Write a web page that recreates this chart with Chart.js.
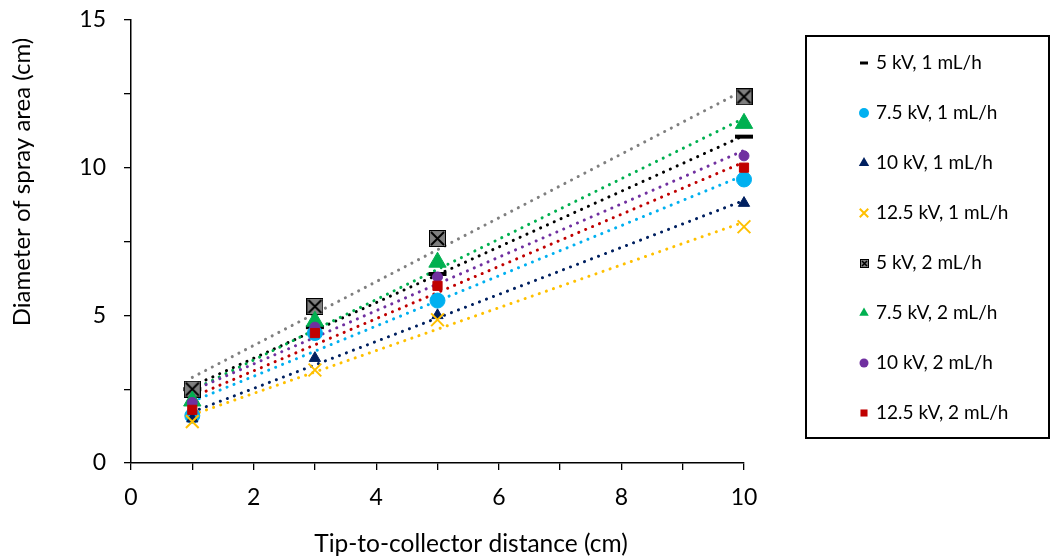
<!DOCTYPE html>
<html>
<head>
<meta charset="utf-8">
<script src="https://cdn.jsdelivr.net/npm/chart.js@4.4.0/dist/chart.umd.min.js"></script>
<style>
  html, body { margin: 0; padding: 0; background: #fff; }
  #wrap { width: 1052px; height: 559px; position: relative; }
</style>
</head>
<body>
<div id="wrap"><canvas id="c"></canvas></div>
<script>
// data
var distances = [1, 3, 5, 10];
var seriesLabels = ['5 kV, 1 mL/h', '7.5 kV, 1 mL/h', '10 kV, 1 mL/h', '12.5 kV, 1 mL/h',
                    '5 kV, 2 mL/h', '7.5 kV, 2 mL/h', '10 kV, 2 mL/h', '12.5 kV, 2 mL/h'];
var kv5_1 = [2.5, 4.6, 6.4, 11.05];
var kv75_1 = [1.6, 4.4, 5.5, 9.6];
var kv10_1 = [1.5, 3.55, 5.0, 8.8];
var kv125_1 = [1.4, 3.15, 4.85, 8.0];
var kv5_2 = [2.5, 5.3, 7.6, 12.4];
var kv75_2 = [2.1, 4.8, 6.8, 11.5];
var kv10_2 = [2.05, 4.6, 6.3, 10.4];
var kv125_2 = [1.8, 4.4, 6.0, 10.0];
var xTicks = [0, 2, 4, 6, 8, 10];
var yTicks = [0, 5, 10, 15];
var xTitle = 'Tip-to-collector distance (cm)';
var yTitle = 'Diameter of spray area (cm)';

var allSeries = [kv5_1, kv75_1, kv10_1, kv125_1, kv5_2, kv75_2, kv10_2, kv125_2];

var FONT = 'Lato, "Open Sans", sans-serif';

// marker looks, same order as the series
var looks = [
  { color: '#000000', style: 'line', r: 9, bw: 4, lr: 4 },
  { color: '#00b0f0', style: 'circle', r: 7.5, lr: 5 },
  { color: '#002060', style: 'triangle', r: 6.5, lr: 6 },
  { color: '#ffc000', style: 'crossRot', r: 9, bw: 2, lr: 6 },
  { color: '#7f7f7f', style: 'box', r: 8.5, lr: 4.5 },
  { color: '#00b050', style: 'triangle', r: 10, lr: 5.5 },
  { color: '#7030a0', style: 'circle', r: 5, lr: 4.5 },
  { color: '#c00000', style: 'rect', r: 6.5, lr: 5 }
];

function boxImage(size) {
  var cv = document.createElement('canvas');
  cv.width = size; cv.height = size;
  var g = cv.getContext('2d');
  g.fillStyle = '#7f7f7f';
  g.fillRect(0, 0, size, size);
  g.strokeStyle = '#000';
  g.lineWidth = 1;
  g.strokeRect(0.5, 0.5, size - 1, size - 1);
  g.lineWidth = Math.max(1.5, size / 9);
  g.beginPath();
  g.moveTo(2, 2); g.lineTo(size - 2, size - 2);
  g.moveTo(size - 2, 2); g.lineTo(2, size - 2);
  g.stroke();
  return cv;
}

// linear least squares trendline, like the spreadsheet's
function trend(ys) {
  var n = distances.length, mx = 0, my = 0, sxx = 0, sxy = 0;
  for (var i = 0; i < n; i++) { mx += distances[i] / n; my += ys[i] / n; }
  for (var j = 0; j < n; j++) {
    sxx += (distances[j] - mx) * (distances[j] - mx);
    sxy += (distances[j] - mx) * (ys[j] - my);
  }
  var b = sxy / sxx, a = my - b * mx;
  var x0 = distances[0], x1 = distances[n - 1];
  return [{ x: x0, y: a + b * x0 }, { x: x1, y: a + b * x1 }];
}

function points(ys) {
  return distances.map(function(x, i) { return { x: x, y: ys[i] }; });
}

var datasets = [];
allSeries.forEach(function(ys, i) {
  var lk = looks[i];
  datasets.push({
    label: seriesLabels[i],
    data: points(ys),
    showLine: false,
    clip: false,
    order: 10 - i,
    pointRadius: lk.r,
    pointHoverRadius: lk.r,
    backgroundColor: lk.color,
    borderColor: lk.color,
    pointBorderWidth: lk.bw || 1,
    pointStyle: lk.style === 'box' ? boxImage(17) : lk.style
  });
});
allSeries.forEach(function(ys, i) {
  datasets.push({
    label: 'trend ' + seriesLabels[i],
    type: 'line',
    data: trend(ys),
    clip: false,
    order: 30 - i,
    borderColor: looks[i].color,
    borderWidth: 3,
    borderDash: [0.1, 7.4],
    borderCapStyle: 'round',
    pointRadius: 0,
    fill: false
  });
});

function drawMark(ctx, lk, x, y, r) {
  ctx.save();
  ctx.fillStyle = lk.color;
  ctx.strokeStyle = lk.color;
  ctx.beginPath();
  if (lk.style === 'line') {
    ctx.lineWidth = 3;
    ctx.moveTo(x - r, y); ctx.lineTo(x + r, y); ctx.stroke();
  } else if (lk.style === 'circle') {
    ctx.arc(x, y, r, 0, Math.PI * 2); ctx.fill();
  } else if (lk.style === 'triangle') {
    ctx.moveTo(x, y - r);
    ctx.lineTo(x + r * 0.866, y + r * 0.5);
    ctx.lineTo(x - r * 0.866, y + r * 0.5);
    ctx.closePath(); ctx.fill();
  } else if (lk.style === 'crossRot') {
    var o = r * 0.707;
    ctx.lineWidth = 2;
    ctx.moveTo(x - o, y - o); ctx.lineTo(x + o, y + o);
    ctx.moveTo(x + o, y - o); ctx.lineTo(x - o, y + o);
    ctx.stroke();
  } else if (lk.style === 'box') {
    var sz = Math.round(r * 2);
    ctx.drawImage(boxImage(sz), Math.round(x - sz / 2), Math.round(y - sz / 2));
  } else if (lk.style === 'rect') {
    var h = r * 0.707;
    ctx.fillRect(x - h, y - h, h * 2, h * 2);
  }
  ctx.restore();
}

// legend box and axis titles, placed where the spreadsheet put them
var extras = {
  id: 'extras',
  afterDraw: function(chart) {
    var ctx = chart.ctx;
    ctx.save();
    ctx.strokeStyle = '#000';
    ctx.lineWidth = 2;
    ctx.strokeRect(806, 36, 243, 402);
    ctx.font = '19px ' + FONT;
    ctx.fillStyle = '#000';
    ctx.textBaseline = 'middle';
    ctx.textAlign = 'left';
    seriesLabels.forEach(function(lbl, i) {
      var y = 63 + i * 50;
      drawMark(ctx, looks[i], 864, y, looks[i].lr);
      ctx.fillText(lbl, 876, y);
    });

    ctx.textAlign = 'center';
    ctx.font = '24.5px ' + FONT;
    ctx.fillText(xTitle, 471, 544);
    ctx.translate(22, 182);
    ctx.rotate(-Math.PI / 2);
    ctx.font = '24px ' + FONT;
    ctx.fillText(yTitle, 0, 0);
    ctx.restore();
  }
};

new Chart(document.getElementById('c'), {
  type: 'scatter',
  data: { datasets: datasets },
  plugins: [extras],
  options: {
    responsive: true,
    maintainAspectRatio: false,
    animation: false,
    layout: { padding: { top: 20, right: 308, left: 0, bottom: 0 } },
    plugins: {
      legend: { display: false },
      tooltip: { enabled: false }
    },
    scales: {
      x: {
        type: 'linear',
        min: 0,
        max: 10,
        afterFit: function(s) { s.height = 96; s.paddingLeft = 0; s.paddingRight = 0; },
        border: { color: '#000', width: 1.5 },
        grid: { drawOnChartArea: false, drawTicks: true, tickLength: 7, color: '#000', lineWidth: 1.3 },
        ticks: {
          stepSize: 1,
          autoSkip: false,
          maxRotation: 0,
          padding: 14,
          color: '#000',
          font: { family: FONT, size: 23 },
          callback: function(v) { return xTicks.indexOf(v) >= 0 ? String(v) : ''; }
        }
      },
      y: {
        min: 0,
        max: 15,
        afterFit: function(s) { s.width = 131; s.paddingTop = 0; s.paddingBottom = 0; },
        border: { color: '#000', width: 1.5 },
        grid: { drawOnChartArea: false, drawTicks: true, tickLength: 7, color: '#000', lineWidth: 1.3 },
        ticks: {
          stepSize: 2.5,
          autoSkip: false,
          padding: 18,
          color: '#000',
          font: { family: FONT, size: 23 },
          callback: function(v) { return yTicks.indexOf(v) >= 0 ? String(v) : ''; }
        }
      }
    }
  }
});
</script>
</body>
</html>
